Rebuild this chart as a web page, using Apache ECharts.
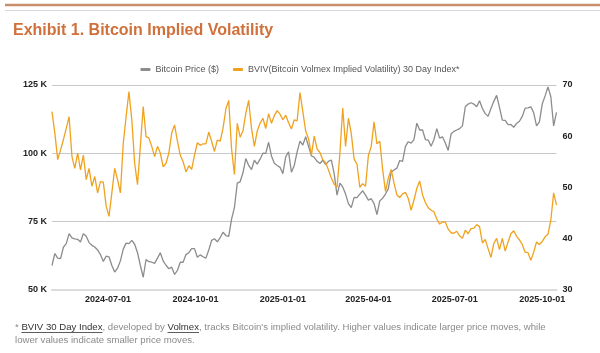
<!DOCTYPE html>
<html>
<head>
<meta charset="utf-8">
<script src="https://cdn.jsdelivr.net/npm/echarts@6/dist/echarts.min.js"></script>
<style>
html, body { margin: 0; padding: 0; background: #fff; }
#main { width: 600px; height: 353px; }
</style>
</head>
<body>
<div id="main"></div>
<script>
// one value every 3 days, starting 2024-05-03
var startDate = '2024-05-03';
var dayCount = 532;
var step = 3;

var xLabelDates = ['2024-07-01', '2024-10-01', '2025-01-01', '2025-04-01', '2025-07-01', '2025-10-01'];
var priceTicks = [50, 75, 100, 125];   // K
var volTicks = [30, 40, 50, 60, 70];

// Bitcoin price, K $
var btcPrice = [
  58.8, 63.2, 61.5, 61.3, 65.5, 66.8, 70.5, 68.9, 68.6, 68.4,
  67.4, 70.5, 69.5, 67.2, 66.2, 65.6, 64.5, 62.8, 60.3, 62.2,
  62, 58.8, 56.4, 57.8, 60.5, 64.8, 67, 66.8, 68, 66.6,
  63.5, 58.8, 54.5, 61, 60.2, 60, 59.6, 61.5, 63.5, 60.5,
  58.9, 57.6, 58.2, 55.5, 57,
  60, 60, 62.8, 63.5, 65,
  65, 61.8, 62.7, 62, 61.5, 64.5, 68, 68.6, 67.5, 69,
  71, 69.8, 69.5, 75.8, 80, 89, 89.5, 92.8, 98, 95.5,
  94, 97.4, 96, 97.8, 100, 99.9, 104, 99, 96.3, 95.5,
  94.8, 92.5, 98.7, 100.5, 93, 95.5, 100.5, 104.4, 103,
  106, 102.5, 99, 98.5, 97, 96.2, 97.4, 95.8, 97, 97.5,
  92.5, 84.6, 89, 87.6, 85, 81.5, 80, 83.8, 83.7, 85,
  86.2, 84.6, 82.8, 83.3, 81.5, 77.5, 82.5, 83.5, 85, 87,
  93, 93.8, 94.5, 97.3, 97, 102.5, 104.2, 103.7, 105, 111,
  108.5, 108.5, 105, 104.8,
  102.5, 105, 109, 105.5, 106, 103.7, 101, 107, 108, 108.5,
  109, 110, 117, 118, 118.5, 118, 117, 119.2, 116.4, 114.5,
  113.5, 116.4, 119, 121.2, 116.8, 112.1, 112, 110.5, 110.5, 109.5,
  110.9, 111.7, 113.5, 116.5, 116.6, 117, 114.8, 110, 111.5, 118,
  121, 124.3, 120.8, 110, 115
];

// BVIV 30 day index
var bviv = [
  64.8, 60.6, 55.4, 57.3, 59.3, 61.5, 63.8, 56, 53.7, 56.7,
  53.4, 56.3, 51.5, 53.7, 50.2, 52.1, 48.9, 51.1, 51, 46.3,
  44.3, 48.9, 53.7, 51.5, 48.9, 58.6, 63.8, 68.7, 63.2, 54.7,
  50.5, 58, 65.8, 59.9, 59.6, 58, 56, 58, 56.7, 54,
  54.7, 56.7, 60.6, 62.2, 59,
  56.3, 55, 53, 54.2, 53.5,
  56.3, 58.7, 58.2, 58.5, 58.5, 60.8, 59, 57, 59.2, 59,
  61.5, 65.3, 67, 57.5, 52.5, 62.5, 59.8, 61, 64.5, 67,
  61.5, 58, 61, 62.5, 63.5, 61.5, 64.4, 62.5, 64, 65,
  64.3, 63.2, 64.1, 62.6, 61.4, 63.2, 63, 68.5, 64.8,
  61, 59.5, 56.3, 60, 57.5, 56.8, 55.4, 54.8, 53.4, 51.8,
  50.6, 50, 56.5, 65.5, 58, 63.5, 60.5, 55.5, 54.5, 50,
  50.7, 50.2, 56.2, 58, 62.8, 58.5, 59, 53.5, 49.2, 51.8,
  53.5, 50.8, 48.5, 48, 48.7, 49, 47.8, 45.5, 47.5, 49.8,
  51.2, 48.5, 47, 46,
  45.5, 45.2, 43.8, 42.8, 43.2, 43.2, 41.8, 41.1, 41, 41.4,
  40.5, 40, 41.6, 40.9, 41.9, 42, 42.7, 42.3, 39.1, 39.8,
  38, 36.3, 39, 40, 37.8, 40, 37.5, 39.3, 40.9, 41.5,
  40.4, 39.7, 38.8, 37.3, 37.2, 35.7, 37.3, 39.3, 38.8, 39.4,
  40.3, 40.8, 43.5, 48.9, 46.5
];

var days = [];
var d0 = new Date(startDate + 'T00:00:00Z');
for (var k = 0; k < dayCount; k++) {
  days.push(new Date(d0.getTime() + k * 86400000).toISOString().slice(0, 10));
}

var fontFam = '"Liberation Sans", Arial, sans-serif';
var noteFont = '9.6px ' + fontFam;

// underline positions for the linked words in the footnote
var ctx = document.createElement('canvas').getContext('2d');
ctx.font = noteFont;
var noteX = 15;
var u1a = noteX + ctx.measureText('* ').width;
var u1b = u1a + ctx.measureText('BVIV 30 Day Index').width;
var u2a = u1b + ctx.measureText(', developed by ').width;
var u2b = u2a + ctx.measureText('Volmex').width;

var myChart = echarts.init(document.getElementById('main'));

var option = {
  backgroundColor: '#fff',
  animation: false,
  textStyle: { fontFamily: fontFam },
  legend: {
    top: 60,
    left: 'center',
    icon: 'roundRect',
    itemWidth: 10,
    itemHeight: 3,
    itemGap: 14,
    textStyle: { fontSize: 9, color: '#555' },
    data: ['Bitcoin Price ($)', 'BVIV(Bitcoin Volmex Implied Volatility) 30 Day Index*']
  },
  grid: { left: 52, right: 43.5, top: 85, bottom: 63.5 },
  xAxis: {
    type: 'category',
    boundaryGap: false,
    data: days,
    axisLine: { lineStyle: { color: '#dcdcdc', width: 2 } },
    axisTick: { show: false },
    axisLabel: {
      interval: function (idx, val) { return xLabelDates.indexOf(val) >= 0; },
      margin: 6,
      fontSize: 9,
      fontWeight: 'bold',
      color: '#222'
    },
    splitLine: { show: false }
  },
  yAxis: [
    {
      type: 'value',
      min: priceTicks[0],
      max: priceTicks[priceTicks.length - 1],
      interval: priceTicks[1] - priceTicks[0],
      axisLine: { show: false },
      axisTick: { show: false },
      axisLabel: { formatter: '{value} K', margin: 5, fontSize: 9, fontWeight: 'bold', color: '#222' },
      splitLine: { lineStyle: { color: '#c8c8c8', width: 1 } }
    },
    {
      type: 'value',
      min: volTicks[0],
      max: volTicks[volTicks.length - 1],
      interval: volTicks[1] - volTicks[0],
      position: 'right',
      axisLine: { show: false },
      axisTick: { show: false },
      axisLabel: { margin: 6, fontSize: 9, fontWeight: 'bold', color: '#222' },
      splitLine: { show: false }
    }
  ],
  series: [
    {
      name: 'Bitcoin Price ($)',
      type: 'line',
      yAxisIndex: 0,
      symbol: 'none',
      color: '#8c8c8c',
      lineStyle: { width: 1.3, color: '#8c8c8c' },
      data: btcPrice.map(function (v, i) { return [i * step, v]; })
    },
    {
      name: 'BVIV(Bitcoin Volmex Implied Volatility) 30 Day Index*',
      type: 'line',
      yAxisIndex: 1,
      symbol: 'none',
      color: '#f0a21e',
      lineStyle: { width: 1.3, color: '#f0a21e' },
      data: bviv.map(function (v, i) { return [i * step, v]; })
    }
  ],
  graphic: [
    { type: 'line', shape: { x1: 5, y1: 5, x2: 600, y2: 5 }, style: { stroke: '#c8906a', lineWidth: 2.5 } },
    { type: 'line', shape: { x1: 5, y1: 10.5, x2: 600, y2: 10.5 }, style: { stroke: '#d8d8e0', lineWidth: 1 } },
    {
      type: 'text', left: 13, top: 23,
      style: { text: 'Exhibit 1. Bitcoin Implied Volatility', font: 'bold 16px ' + fontFam, fill: '#d0703a' }
    },
    {
      type: 'text', x: noteX, y: 321,
      style: {
        text: '{n|* }{u|BVIV 30 Day Index}{n|, developed by }{u|Volmex}{n|, tracks Bitcoin\'s implied volatility. Higher values indicate larger price moves, while}\n{n|lower values indicate smaller price moves.}',
        font: noteFont,
        lineHeight: 13,
        rich: {
          n: { fill: '#8a8a8a', font: noteFont, lineHeight: 13 },
          u: { fill: '#333', font: noteFont, lineHeight: 13 }
        }
      }
    },
    { type: 'line', shape: { x1: u1a, y1: 332.5, x2: u1b, y2: 332.5 }, style: { stroke: '#333', lineWidth: 0.8 } },
    { type: 'line', shape: { x1: u2a, y1: 332.5, x2: u2b, y2: 332.5 }, style: { stroke: '#333', lineWidth: 0.8 } }
  ]
};

myChart.setOption(option);
</script>
</body>
</html>
